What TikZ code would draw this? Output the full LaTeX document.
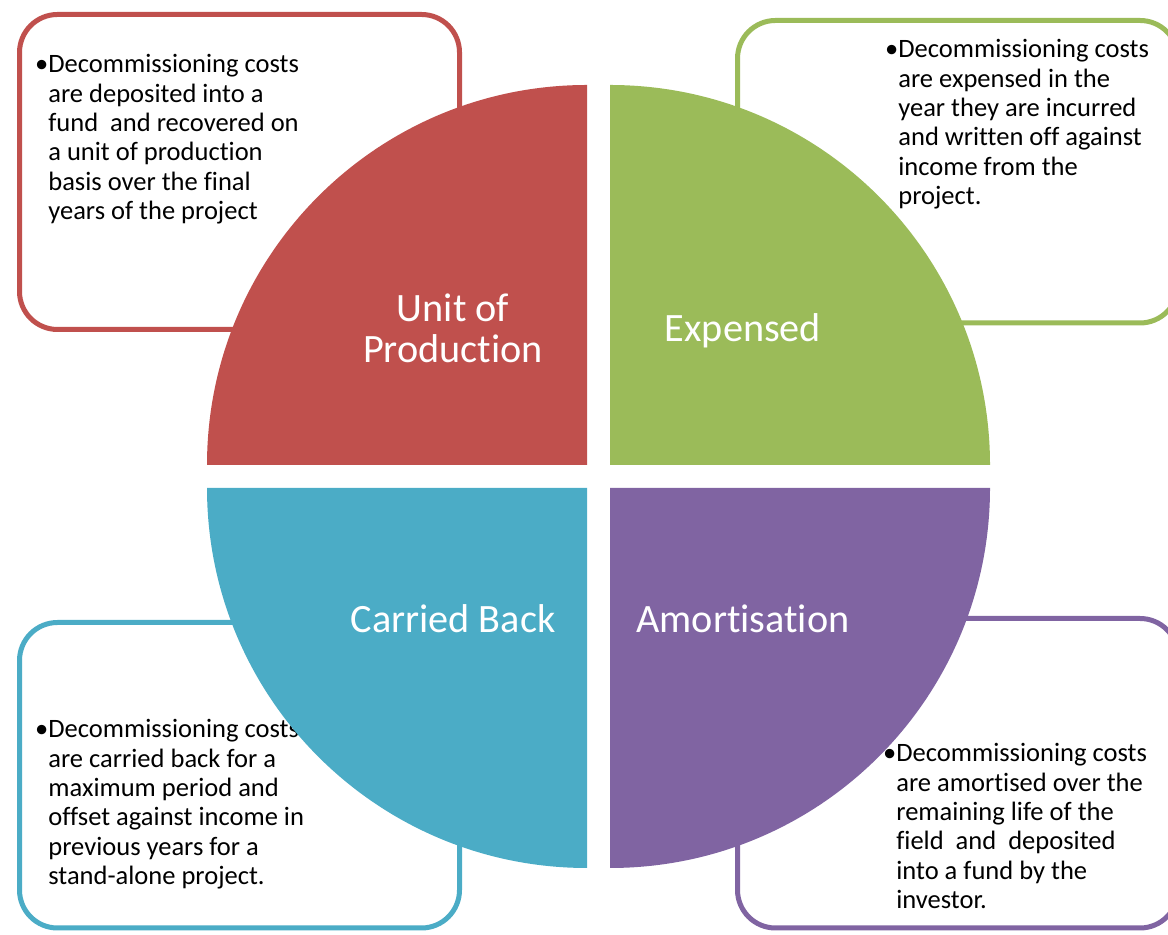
\documentclass[tikz,border=0pt]{standalone}
\usepackage{fontspec}
\setmainfont{Carlito}[Ligatures=NoCommon]
\definecolor{unitred}{HTML}{C0504D}
\definecolor{expgreen}{HTML}{9BBB59}
\definecolor{backblue}{HTML}{4BACC6}
\definecolor{amortpurple}{HTML}{8064A2}

\begin{document}
\begin{tikzpicture}[x=0.02cm, y=0.02cm,
		notebox/.style={line width=0.1cm, rounded corners=0.76cm, fill=white},
		notetext/.style={anchor=base west, align=left, inner sep=0pt, font=\fontsize{15.1}{16.7}\selectfont},
		quartertext/.style={anchor=base, align=center, inner sep=0pt, text=white, font=\fontsize{22.9}{23.8}\selectfont}]
				\useasboundingbox (0,0) rectangle (1168,935);
				
				% Boxes
				\draw[notebox, draw=unitred] (19.5,605.5) rectangle (459.5,920.5);
				\draw[notebox, draw=expgreen] (737.5,612) rectangle (1178,914.5);
				\draw[notebox, draw=backblue] (19.5,7) rectangle (459.5,312.5);
				\draw[notebox, draw=amortpurple] (737.5,7) rectangle (1178,316.5);
				
				% Box texts (placed at the baseline of the last line)
				\node (unitnote) [notetext] at (48,715.5) {\llap{\textbullet}Decommissioning costs\\are deposited into a\\fund\ \ and recovered on\\a unit of production\\basis over the final\\years of the project};
				\node (expnote) [notetext] at (898,730.5) {\llap{\textbullet}Decommissioning costs\\are expensed in the\\year they are incurred\\and written off against\\income from the\\project.};
				\node (backnote) [notetext] at (48,50.5) {\llap{\textbullet}Decommissioning costs\\are carried back for a\\maximum period and\\offset against income in\\previous years for a\\stand-alone project.};
				\node (amortnote) [notetext] at (896,26.5) {\llap{\textbullet}Decommissioning costs\\are amortised over the\\remaining life of the\\field\ \ and\ \ deposited\\into a fund by the\\investor.};
				
				% Quarters
				\fill[unitred] (587,470) -- (207,470) arc[start angle=180, end angle=90, radius=380] -- cycle;
				\fill[expgreen] (610,470) -- (610,850) arc[start angle=90, end angle=0, radius=380] -- cycle;
				\fill[backblue] (587,447) -- (207,447) arc[start angle=180, end angle=270, radius=380] -- cycle;
				\fill[amortpurple] (610,447) -- (990,447) arc[start angle=0, end angle=-90, radius=380] -- cycle;
				
				% Labels
				\node (unit) [quartertext] at (453,572) {Unit of\\Production};
				\node (expensed) [quartertext] at (743,593) {Expensed};
				\node (carried) [quartertext] at (453,302) {Carried Back};
				\node (amort) [quartertext] at (743,302) {Amortisation};
				
			\end{tikzpicture}
\end{document}
